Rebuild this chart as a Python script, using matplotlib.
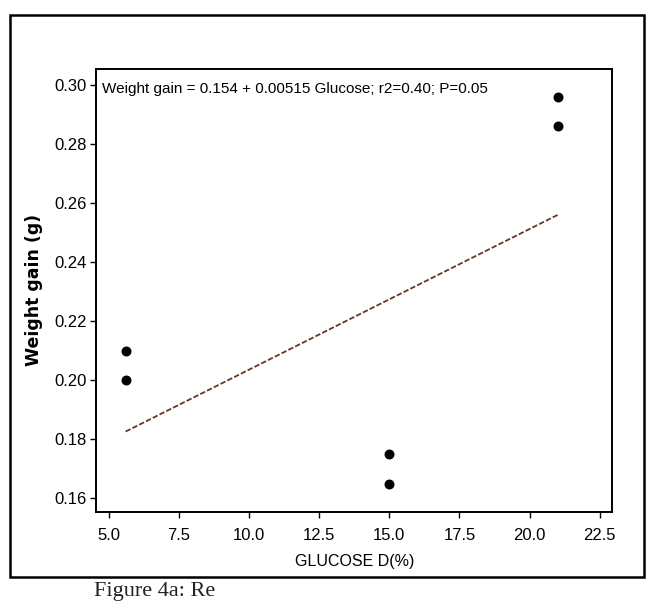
import matplotlib
matplotlib.use("Agg")
import matplotlib.pyplot as plt
import numpy as np
from matplotlib.patches import Rectangle

glucose = [5.6, 5.6, 15.0, 15.0, 21.0, 21.0]
weight_gain = [0.210, 0.200, 0.175, 0.165, 0.296, 0.286]
x_ticks = [5.0, 7.5, 10.0, 12.5, 15.0, 17.5, 20.0, 22.5]
x_tick_labels = ["5.0", "7.5", "10.0", "12.5", "15.0", "17.5", "20.0", "22.5"]
y_ticks = [0.16, 0.18, 0.20, 0.22, 0.24, 0.26, 0.28, 0.30]
y_tick_labels = ["0.16", "0.18", "0.20", "0.22", "0.24", "0.26", "0.28", "0.30"]
equation = "Weight gain = 0.154 + 0.00515 Glucose; r2=0.40; P=0.05"

narrow = ["Liberation Sans Narrow", "Liberation Sans", "DejaVu Sans"]

fig = plt.figure(figsize=(6.5, 6.02), dpi=100)
ax = fig.add_axes([0.148, 0.15, 0.794, 0.736])

ax.scatter(glucose, weight_gain, s=38, color="black", zorder=3)

slope, intercept = np.polyfit(glucose, weight_gain, 1)
xs = np.array([min(glucose), max(glucose)])
ax.plot(xs, intercept + slope * xs, color="#6b3426", lw=1.3,
        linestyle=(0, (3, 1.2)), zorder=2)

ax.set_xlim(4.55, 22.95)
ax.set_ylim(0.1555, 0.3055)
ax.set_xticks(x_ticks)
ax.set_xticklabels(x_tick_labels, family=narrow, fontsize=12)
ax.set_yticks(y_ticks)
ax.set_yticklabels(y_tick_labels, family=narrow, fontsize=12)
ax.tick_params(direction="out", length=4, width=1, color="black", pad=3)
ax.tick_params(axis="x", pad=8)
for sp in ax.spines.values():
    sp.set_linewidth(1.4)
    sp.set_color("black")

ax.set_xlabel("GLUCOSE D(%)", family=narrow, fontsize=11.5, labelpad=8)
ax.set_ylabel("Weight gain (g)", family="DejaVu Sans", fontweight="bold",
              fontsize=12.5, labelpad=8)

ax.text(0.012, 0.955, equation, transform=ax.transAxes, family=narrow,
        fontsize=11, ha="left", va="center")

fig.patches.append(Rectangle((0.015, 0.042), 0.975, 0.933, transform=fig.transFigure,
                             fill=False, edgecolor="black", lw=1.8))
fig.text(0.145, 0.001, "Figure 4a: Re", family="Liberation Serif", fontsize=16,
         ha="left", va="bottom", color="#222222")

fig.savefig("out.png", dpi=100, facecolor="white")
